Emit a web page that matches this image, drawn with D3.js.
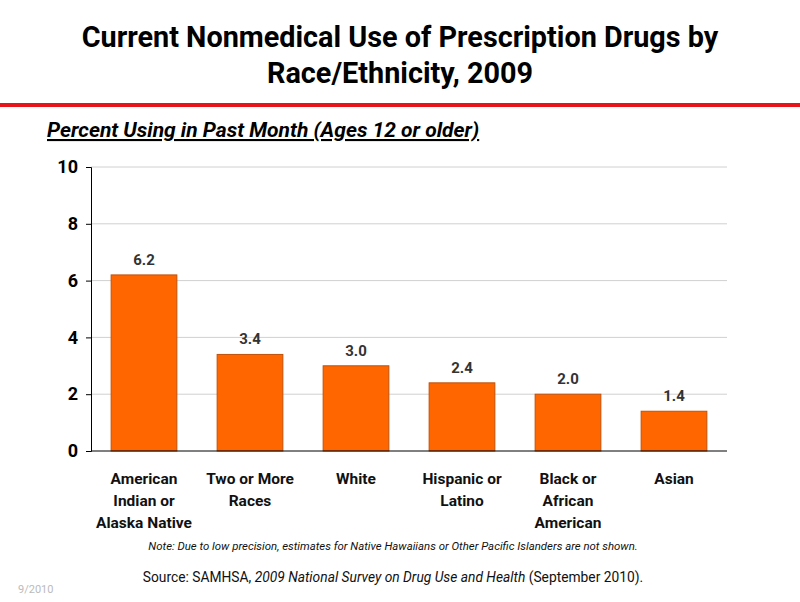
<!DOCTYPE html>
<html>
<head>
<meta charset="utf-8">
<script src="https://cdn.jsdelivr.net/npm/d3@7"></script>
<style>
  body { margin: 0; background: #fff; }
  svg text { font-family: Roboto, "Open Sans", sans-serif; }
</style>
</head>
<body>
<div id="chart"></div>
<script>
// Data
const categories = [
  ["American", "Indian or", "Alaska Native"],
  ["Two or More", "Races"],
  ["White"],
  ["Hispanic or", "Latino"],
  ["Black or", "African", "American"],
  ["Asian"]
];
const values = [6.2, 3.4, 3.0, 2.4, 2.0, 1.4];
const yTicks = [0, 2, 4, 6, 8, 10];

const W = 800, H = 602;
const margin = { top: 167, right: 73, bottom: 151, left: 91 };
const width = W - margin.left - margin.right, height = H - margin.top - margin.bottom;

const svg = d3.select("#chart").append("svg").attr("width", W).attr("height", H);

// Title + rule
const title = svg.append("text").attr("text-anchor", "middle").attr("font-weight", "bold")
  .attr("font-size", 28.8).attr("fill", "#000");
title.append("tspan").attr("x", 400).attr("y", 47).text("Current Nonmedical Use of Prescription Drugs by");
title.append("tspan").attr("x", 400).attr("y", 83).text("Race/Ethnicity, 2009");

svg.append("rect").attr("x", 0).attr("y", 103).attr("width", W).attr("height", 4).attr("fill", "#e8141b");

svg.append("text").attr("x", 47).attr("y", 137).attr("font-size", 21).attr("font-weight", "bold")
  .attr("font-style", "italic").attr("text-decoration", "underline").attr("fill", "#000")
  .text("Percent Using in Past Month (Ages 12 or older)");

const g = svg.append("g").attr("transform", `translate(${margin.left},${margin.top})`);

const x = d3.scaleBand().domain(d3.range(values.length)).range([0, width]).paddingInner(0.38).paddingOuter(0.19);
const y = d3.scaleLinear().domain([0, 10]).range([height, 0]);

// Gridlines
g.append("g").selectAll("line").data(yTicks.filter(d => d > 0)).enter().append("line")
  .attr("x1", 0).attr("x2", width).attr("y1", d => y(d)).attr("y2", d => y(d))
  .attr("stroke", "#d0d0d0").attr("stroke-width", 1);

// Bars
g.selectAll("rect.bar").data(values).enter().append("rect").attr("class", "bar")
  .attr("x", (d, i) => x(i)).attr("width", x.bandwidth())
  .attr("y", d => y(d)).attr("height", d => height - y(d))
  .attr("fill", "#ff6600").attr("stroke", "#c0500a").attr("stroke-width", 1);

// Value labels
g.selectAll("text.val").data(values).enter().append("text").attr("class", "val")
  .attr("x", (d, i) => x(i) + x.bandwidth() / 2).attr("y", d => y(d) - 10)
  .attr("text-anchor", "middle").attr("font-size", 15).attr("font-weight", "bold").attr("fill", "#333")
  .text(d => d.toFixed(1));

// Y axis
const yAxis = g.append("g").call(d3.axisLeft(y).tickValues(yTicks).tickSize(5).tickPadding(8));
yAxis.select(".domain").attr("stroke", "#000");
yAxis.selectAll(".tick line").attr("stroke", "#000");
yAxis.selectAll(".tick text").attr("font-size", 18).attr("font-weight", "bold").attr("fill", "#000")
  .style("font-family", "Roboto, 'Open Sans', sans-serif");

// X baseline
g.append("line").attr("x1", 0).attr("x2", width).attr("y1", height).attr("y2", height).attr("stroke", "#000");

// Category labels
const cat = g.selectAll("text.cat").data(categories).enter().append("text").attr("class", "cat")
  .attr("text-anchor", "middle").attr("font-size", 15.5).attr("font-weight", "bold").attr("fill", "#111");
cat.each(function(lines, i) {
  d3.select(this).selectAll("tspan").data(lines).enter().append("tspan")
    .attr("x", x(i) + x.bandwidth() / 2).attr("y", (d, j) => height + 33 + j * 22).text(d => d);
});

// Notes
svg.append("text").attr("x", 393).attr("y", 550).attr("text-anchor", "middle").attr("font-size", 11.4)
  .attr("font-style", "italic").attr("fill", "#111")
  .text("Note: Due to low precision, estimates for Native Hawaiians or Other Pacific Islanders are not shown.");

const src = svg.append("text").attr("x", 393).attr("y", 582).attr("text-anchor", "middle").attr("font-size", 13.8).attr("fill", "#111");
src.append("tspan").text("Source:  SAMHSA, ");
src.append("tspan").attr("font-style", "italic").text("2009 National Survey on Drug Use and Health");
src.append("tspan").text(" (September 2010).");

svg.append("text").attr("x", 18).attr("y", 593).attr("font-size", 11).attr("fill", "#bbb").text("9/2010");
</script>
</body>
</html>
